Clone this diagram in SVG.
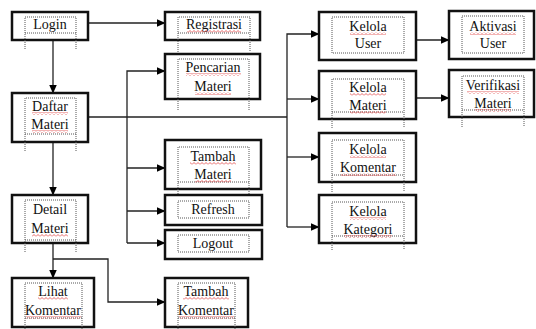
<svg xmlns="http://www.w3.org/2000/svg" width="536" height="329" viewBox="0 0 536 329">
<defs>
<marker id="ah" markerWidth="9" markerHeight="8" refX="8.5" refY="4" orient="auto" markerUnits="userSpaceOnUse">
<path d="M0,0 L9,4 L0,8 Z" fill="#000"/>
</marker>
<pattern id="sq" width="4" height="3" patternUnits="userSpaceOnUse">
<path d="M0,2.5 L2,0.5 L4,2.5" fill="none" stroke="#e04040" stroke-width="0.8"/>
</pattern>
<style>
.box{fill:#fff;stroke:#111;stroke-width:2.5}
.in{fill:none;stroke:#555;stroke-width:1;stroke-dasharray:1 1}
.t{font-family:'Liberation Serif','Times New Roman',serif;font-size:14px;fill:#111;text-anchor:middle}
.c{fill:none;stroke:#222;stroke-width:1.3}
.sq{fill:url(#sq)}
</style>
</defs>
<rect width="536" height="329" fill="#fff"/>
<g id="connectors">
<path class="c" d="M88,23 H165" marker-end="url(#ah)"/>
<path class="c" d="M53,40 V93" marker-end="url(#ah)"/>
<path class="c" d="M88,117 H287"/>
<path class="c" d="M127,243 V71 H165" marker-end="url(#ah)"/>
<path class="c" d="M127,168 H165" marker-end="url(#ah)"/>
<path class="c" d="M127,211 H165" marker-end="url(#ah)"/>
<path class="c" d="M127,243 H165" marker-end="url(#ah)"/>
<path class="c" d="M287,227 V34 H319" marker-end="url(#ah)"/>
<path class="c" d="M287,99 H319" marker-end="url(#ah)"/>
<path class="c" d="M287,157 H319" marker-end="url(#ah)"/>
<path class="c" d="M287,227 H319" marker-end="url(#ah)"/>
<path class="c" d="M416,40 H449" marker-end="url(#ah)"/>
<path class="c" d="M416,98 H449" marker-end="url(#ah)"/>
<path class="c" d="M53,142 V195" marker-end="url(#ah)"/>
<path class="c" d="M53,243 V278" marker-end="url(#ah)"/>
<path class="c" d="M53,259 H108 V302 H165" marker-end="url(#ah)"/>
</g>
<g id="login">
<rect class="box" x="12" y="12" width="76" height="28"/>
<path class="in" d="M25,49 V17 H76 V49 M25,33 H76"/>
<text class="t" x="50" y="29">Login</text>
</g>
<g id="registrasi">
<rect class="box" x="165" y="12" width="95" height="28"/>
<path class="in" d="M178,52 V17 H250 V52 M178,33 H250"/>
<text class="t" x="214" y="29">Registrasi</text>
<rect class="sq" x="187" y="30" width="54" height="3"/>
</g>
<g id="pencarian-materi">
<rect class="box" x="165" y="54" width="95" height="45"/>
<path class="in" d="M178,110 V59 H249 V110"/>
<text class="t" x="213" y="72">Pencarian</text>
<text class="t" x="213" y="91">Materi</text>
<rect class="sq" x="186" y="73" width="55" height="3"/>
<rect class="sq" x="195" y="92" width="36" height="3"/>
</g>
<g id="daftar-materi">
<rect class="box" x="12" y="93" width="76" height="49"/>
<path class="in" d="M25,151 V98 H76 V151 M25,134 H76"/>
<text class="t" x="50" y="111">Daftar</text>
<text class="t" x="50" y="129">Materi</text>
<rect class="sq" x="32" y="112" width="36" height="3"/>
<rect class="sq" x="32" y="130" width="36" height="3"/>
</g>
<g id="tambah-materi">
<rect class="box" x="165" y="140" width="96" height="49"/>
<path class="in" d="M178,196 V147 H249 V196 M178,182 H249"/>
<text class="t" x="213" y="161">Tambah</text>
<text class="t" x="213" y="179">Materi</text>
<rect class="sq" x="190" y="162" width="46" height="3"/>
<rect class="sq" x="195" y="180" width="36" height="3"/>
</g>
<g id="refresh">
<rect class="box" x="165" y="195" width="97" height="30"/>
<rect class="in" x="178" y="201" width="71" height="17"/>
<text class="t" x="213" y="214">Refresh</text>
</g>
<g id="logout">
<rect class="box" x="165" y="230" width="97" height="29"/>
<rect class="in" x="178" y="235" width="71" height="17"/>
<text class="t" x="213" y="248">Logout</text>
</g>
<g id="detail-materi">
<rect class="box" x="12" y="195" width="76" height="48"/>
<path class="in" d="M25,252 V200 H76 V252 M25,240 H76"/>
<text class="t" x="50" y="214">Detail</text>
<text class="t" x="50" y="233">Materi</text>
<rect class="sq" x="32" y="234" width="36" height="3"/>
</g>
<g id="lihat-komentar">
<rect class="box" x="12" y="278" width="82" height="49"/>
<path class="in" d="M25,329 V283 H82 V329 M25,318 H82"/>
<text class="t" x="53" y="296">Lihat</text>
<text class="t" x="53" y="315">Komentar</text>
<rect class="sq" x="38" y="297" width="30" height="3"/>
<rect class="sq" x="26" y="316" width="55" height="3"/>
</g>
<g id="tambah-komentar">
<rect class="box" x="165" y="278" width="83" height="49"/>
<path class="in" d="M178,329 V283 H235 V329 M178,318 H235"/>
<text class="t" x="206" y="296">Tambah</text>
<text class="t" x="206" y="315">Komentar</text>
<rect class="sq" x="183" y="297" width="46" height="3"/>
<rect class="sq" x="179" y="316" width="55" height="3"/>
</g>
<g id="kelola-user">
<rect class="box" x="319" y="12" width="97" height="48"/>
<rect class="in" x="332" y="17" width="72" height="36"/>
<text class="t" x="368" y="31">Kelola</text>
<text class="t" x="368" y="48">User</text>
<rect class="sq" x="350" y="32" width="36" height="3"/>
</g>
<g id="aktivasi-user">
<rect class="box" x="449" y="11" width="85" height="48"/>
<rect class="in" x="462" y="16" width="62" height="37"/>
<text class="t" x="493" y="31">Aktivasi</text>
<text class="t" x="493" y="48">User</text>
<rect class="sq" x="470" y="32" width="46" height="3"/>
</g>
<g id="kelola-materi">
<rect class="box" x="319" y="71" width="97" height="48"/>
<path class="in" d="M332,128 V79 H404 V128 M332,112 H404"/>
<text class="t" x="368" y="92">Kelola</text>
<text class="t" x="368" y="110">Materi</text>
<rect class="sq" x="350" y="93" width="36" height="3"/>
<rect class="sq" x="350" y="111" width="36" height="3"/>
</g>
<g id="verifikasi-materi">
<rect class="box" x="449" y="70" width="85" height="47"/>
<path class="in" d="M462,127 V76 H524 V127 M462,110 H524"/>
<text class="t" x="493" y="90">Verifikasi</text>
<text class="t" x="493" y="108">Materi</text>
<rect class="sq" x="467" y="91" width="52" height="3"/>
<rect class="sq" x="475" y="109" width="36" height="3"/>
</g>
<g id="kelola-komentar">
<rect class="box" x="319" y="133" width="97" height="49"/>
<path class="in" d="M332,192 V140 H404 V192 M332,175 H404"/>
<text class="t" x="368" y="154">Kelola</text>
<text class="t" x="368" y="172">Komentar</text>
<rect class="sq" x="350" y="155" width="36" height="3"/>
<rect class="sq" x="341" y="173" width="55" height="3"/>
</g>
<g id="kelola-kategori">
<rect class="box" x="319" y="195" width="97" height="48"/>
<path class="in" d="M332,250 V202 H404 V250 M332,236 H404"/>
<text class="t" x="368" y="216">Kelola</text>
<text class="t" x="368" y="234">Kategori</text>
<rect class="sq" x="350" y="217" width="36" height="3"/>
<rect class="sq" x="344" y="235" width="48" height="3"/>
</g>
</svg>
